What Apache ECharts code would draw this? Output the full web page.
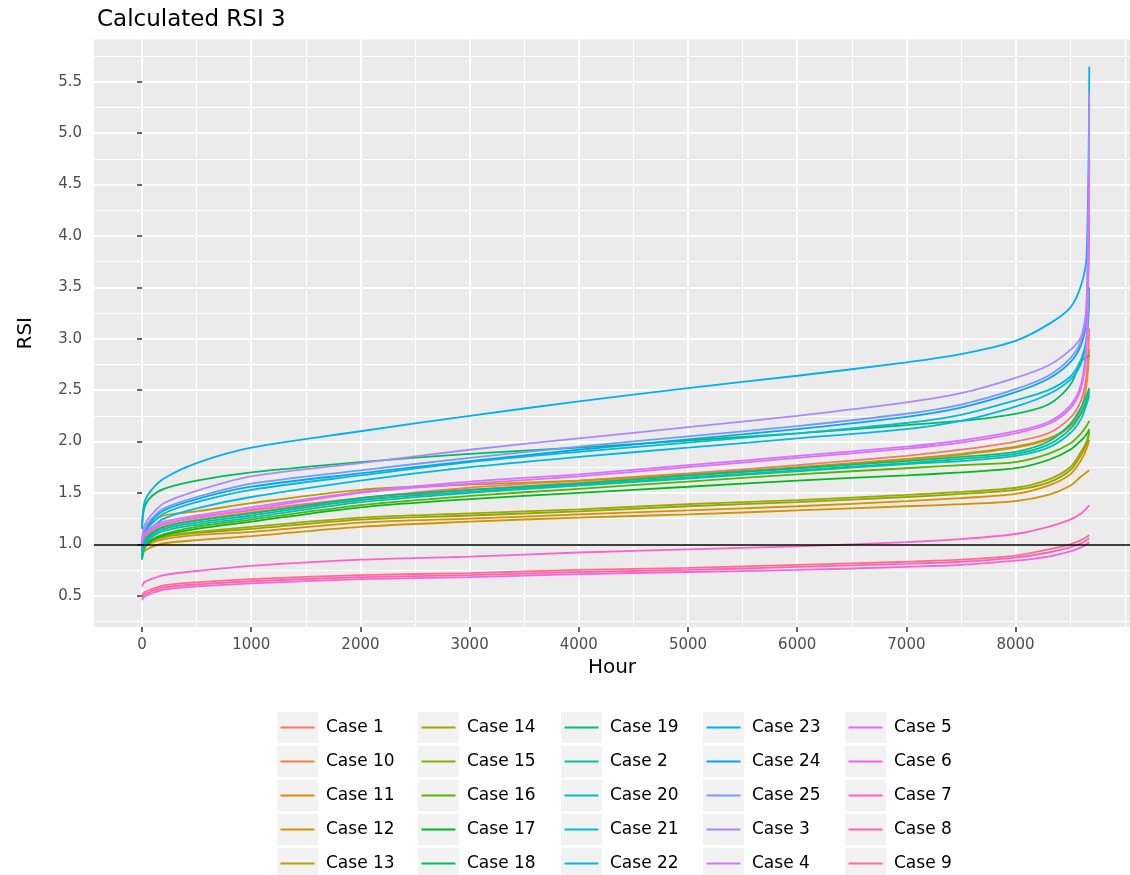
<!DOCTYPE html>
<html>
<head>
<meta charset="utf-8">
<script src="https://cdn.jsdelivr.net/npm/echarts@6/dist/echarts.min.js"></script>
<style>
  html, body { margin: 0; padding: 0; background: #fff; }
  #chart { width: 1130px; height: 875px; }
</style>
</head>
<body>
<div id="chart"></div>
<script>
// ---------- data ----------
const hours = [0, 20, 80, 200, 500, 1000, 2000, 3000, 4000, 5000, 6000, 7000, 7500, 8000, 8300, 8500, 8600, 8650, 8675];

const case1  = [0.95,1.05,1.12,1.19,1.26,1.33,1.45,1.55,1.62,1.69,1.77,1.86,1.92,2.00,2.08,2.23,2.40,2.65,3.10];
const case10 = [0.93,1.03,1.10,1.17,1.24,1.31,1.43,1.53,1.60,1.67,1.74,1.82,1.87,1.94,2.02,2.15,2.32,2.55,2.90];
const case11 = [0.92,0.97,1.01,1.05,1.09,1.12,1.21,1.25,1.29,1.33,1.37,1.42,1.45,1.49,1.57,1.68,1.82,1.93,2.02];
const case12 = [0.88,0.93,0.97,1.01,1.04,1.08,1.17,1.22,1.26,1.29,1.33,1.37,1.39,1.42,1.48,1.57,1.66,1.70,1.72];
const case13 = [0.92,1.10,1.20,1.28,1.32,1.40,1.53,1.58,1.62,1.68,1.75,1.83,1.88,1.95,2.03,2.15,2.28,2.40,2.50];
const case14 = [0.95,1.00,1.04,1.08,1.12,1.17,1.26,1.30,1.34,1.39,1.43,1.48,1.51,1.55,1.63,1.75,1.90,2.00,2.10];
const case15 = [0.94,0.99,1.03,1.07,1.11,1.15,1.24,1.28,1.32,1.37,1.41,1.46,1.49,1.53,1.60,1.72,1.87,1.98,2.08];
const case16 = [0.86,0.97,1.04,1.10,1.17,1.24,1.38,1.47,1.54,1.61,1.68,1.74,1.77,1.80,1.88,1.98,2.08,2.15,2.20];
const case17 = [0.85,0.96,1.03,1.09,1.15,1.22,1.36,1.44,1.50,1.56,1.62,1.67,1.70,1.74,1.82,1.92,2.01,2.07,2.12];
const case18 = [1.15,1.35,1.46,1.54,1.62,1.70,1.80,1.88,1.94,2.01,2.08,2.16,2.20,2.27,2.36,2.55,2.78,2.82,2.84];
const case19 = [0.88,1.02,1.10,1.17,1.23,1.30,1.45,1.53,1.59,1.67,1.74,1.81,1.85,1.90,2.00,2.17,2.33,2.45,2.52];
const case2  = [0.87,1.00,1.08,1.15,1.21,1.28,1.43,1.51,1.58,1.65,1.72,1.79,1.83,1.88,1.97,2.12,2.27,2.40,2.48];
const case20 = [0.86,0.98,1.06,1.13,1.19,1.26,1.41,1.50,1.57,1.64,1.71,1.78,1.81,1.86,1.94,2.08,2.22,2.36,2.45];
const case21 = [0.98,1.10,1.19,1.30,1.41,1.53,1.67,1.80,1.90,1.99,2.08,2.18,2.26,2.40,2.50,2.63,2.80,3.00,3.40];
const case22 = [0.95,1.07,1.15,1.25,1.35,1.46,1.62,1.75,1.85,1.94,2.03,2.12,2.20,2.34,2.46,2.60,2.76,3.00,3.50];
const case23 = [1.17,1.40,1.52,1.64,1.79,1.94,2.10,2.25,2.39,2.52,2.64,2.77,2.85,2.98,3.14,3.30,3.52,3.80,5.65];
const case24 = [0.98,1.12,1.22,1.33,1.44,1.56,1.69,1.81,1.92,2.02,2.12,2.24,2.33,2.48,2.61,2.77,2.94,3.20,4.20];
const case25 = [1.00,1.14,1.24,1.35,1.46,1.59,1.72,1.84,1.95,2.05,2.15,2.27,2.36,2.51,2.64,2.81,2.98,3.30,4.75];
const case3  = [1.05,1.18,1.28,1.40,1.52,1.66,1.79,1.92,2.03,2.14,2.25,2.38,2.47,2.62,2.74,2.89,3.02,3.35,5.40];
const case4  = [1.02,1.10,1.16,1.22,1.28,1.36,1.51,1.61,1.68,1.77,1.86,1.95,2.01,2.10,2.19,2.35,2.56,3.00,4.70];
const case5  = [1.00,1.08,1.14,1.20,1.26,1.34,1.50,1.59,1.66,1.75,1.84,1.93,1.99,2.08,2.17,2.32,2.52,2.90,4.50];
const case6  = [0.46,0.49,0.52,0.56,0.59,0.62,0.66,0.68,0.71,0.73,0.75,0.78,0.80,0.84,0.88,0.93,0.97,1.00,1.02];
const case7  = [0.59,0.63,0.66,0.70,0.74,0.79,0.85,0.88,0.92,0.95,0.98,1.02,1.05,1.10,1.17,1.24,1.30,1.35,1.38];
const case8  = [0.48,0.51,0.54,0.58,0.61,0.64,0.68,0.70,0.73,0.75,0.78,0.81,0.83,0.87,0.92,0.97,1.01,1.04,1.06];
const case9  = [0.50,0.53,0.56,0.60,0.63,0.66,0.70,0.72,0.75,0.77,0.80,0.83,0.85,0.89,0.95,1.00,1.04,1.07,1.09];

const seriesNames = ['Case 1','Case 10','Case 11','Case 12','Case 13','Case 14','Case 15','Case 16','Case 17','Case 18',
  'Case 19','Case 2','Case 20','Case 21','Case 22','Case 23','Case 24','Case 25','Case 3','Case 4','Case 5','Case 6','Case 7','Case 8','Case 9'];
const seriesValues = [case1, case10, case11, case12, case13, case14, case15, case16, case17, case18,
  case19, case2, case20, case21, case22, case23, case24, case25, case3, case4, case5, case6, case7, case8, case9];

const xTicks = [0, 1000, 2000, 3000, 4000, 5000, 6000, 7000, 8000];
const xMinorTicks = [500, 1500, 2500, 3500, 4500, 5500, 6500, 7500, 8500, 9000];
const yTicks = [0.5, 1.0, 1.5, 2.0, 2.5, 3.0, 3.5, 4.0, 4.5, 5.0, 5.5];
const yMinorTicks = [0.25, 0.75, 1.25, 1.75, 2.25, 2.75, 3.25, 3.75, 4.25, 4.75, 5.25, 5.75];
const refLine = 1.0;

// ---------- ggplot-like hue palette (HCL, l=65, c=100) ----------
function hcl(h, c, l) {
  const rad = h * Math.PI / 180;
  const U = c * Math.cos(rad), V = c * Math.sin(rad);
  const Xn = 95.047, Yn = 100.0, Zn = 108.883;
  const den = Xn + 15 * Yn + 3 * Zn;
  const un = 4 * Xn / den, vn = 9 * Yn / den;
  const Y = l > 8 ? Yn * Math.pow((l + 16) / 116, 3) : Yn * l / 903.3;
  const up = U / (13 * l) + un, vp = V / (13 * l) + vn;
  const X = 9.0 * Y * up / (4 * vp);
  const Z = -X / 3 - 5 * Y + 3 * Y / vp;
  const x = X / 100, y = Y / 100, z = Z / 100;
  let r = 3.240479 * x - 1.537150 * y - 0.498535 * z;
  let g = -0.969256 * x + 1.875992 * y + 0.041556 * z;
  let b = 0.055648 * x - 0.204043 * y + 1.057311 * z;
  const gam = v => v <= 0.0031308 ? 12.92 * v : 1.055 * Math.pow(v, 1 / 2.4) - 0.055;
  const to = v => { v = Math.max(0, Math.min(1, gam(v))); const s = Math.round(v * 255).toString(16); return s.length < 2 ? '0' + s : s; };
  return '#' + to(r) + to(g) + to(b);
}
const palette = seriesNames.map((_, i) => hcl(15 + 360 / seriesNames.length * i, 100, 65));

// ---------- chart ----------
const FONT = 'DejaVu Sans';
const chart = echarts.init(document.getElementById('chart'), null, { renderer: 'canvas' });

const series = seriesNames.map((name, i) => ({
  name: name,
  type: 'line',
  xAxisIndex: 0,
  yAxisIndex: 0,
  data: hours.map((h, j) => [h, seriesValues[i][j]]),
  showSymbol: false,
  symbol: 'none',
  smooth: 0.3,
  lineStyle: { width: 1.8, color: palette[i] },
  itemStyle: { color: palette[i] },
  emphasis: { disabled: true },
  silent: true,
  z: 2
}));
series.push({
  name: 'ref',
  type: 'line',
  data: [],
  xAxisIndex: 0,
  yAxisIndex: 0,
  silent: true,
  z: 3,
  markLine: {
    silent: true,
    symbol: ['none', 'none'],
    label: { show: false },
    lineStyle: { color: '#000000', width: 1.6, type: 'solid' },
    emphasis: { disabled: true },
    data: [{ yAxis: refLine }]
  }
});

// legend: 5 columns of 5 entries, column-major like ggplot; two layers (grey key boxes, then coloured lines + text)
const legendColumnLeft = [277, 418, 561, 703, 845];
const legends = [];
legendColumnLeft.forEach((left, c) => {
  const names = seriesNames.slice(c * 5, c * 5 + 5);
  const base = {
    orient: 'vertical', left: left, top: 712, height: 180, padding: 0,
    itemWidth: 41, itemHeight: 31, itemGap: 3,
    selectedMode: false, data: names
  };
  legends.push(Object.assign({}, base, {
    id: 'keys' + c, icon: 'rect', z: 4,
    itemStyle: { color: '#F2F2F2', borderWidth: 0 },
    textStyle: { fontFamily: FONT, fontSize: 17, color: 'rgba(0,0,0,0)', padding: [0, 0, 0, 3] }
  }));
  legends.push(Object.assign({}, base, {
    id: 'lines' + c, z: 5,
    icon: 'path://M0,0 L0,0 M3.5,14.5 L37.5,14.5 L37.5,16.5 L3.5,16.5 Z M41,31 L41,31',
    itemStyle: { borderWidth: 0 },
    textStyle: { fontFamily: FONT, fontSize: 17, color: '#000000', padding: [0, 0, 0, 3] }
  }));
});

const option = {
  animation: false,
  color: palette,
  title: {
    text: 'Calculated RSI 3',
    left: 92,
    top: 4,
    textStyle: { fontFamily: FONT, fontSize: 23, fontWeight: 'normal', color: '#000000' }
  },
  grid: {
    left: 94, right: 0, top: 39.5, bottom: 248,
    show: true, backgroundColor: '#EBEBEB', borderWidth: 0,
    containLabel: false, outerBoundsMode: 'none'
  },
  xAxis: [
    {
      type: 'value', min: -440, max: 9048,
      name: 'Hour', nameLocation: 'middle', nameGap: 31,
      nameTextStyle: { fontFamily: FONT, fontSize: 20, color: '#000000' },
      axisLine: { show: false },
      axisTick: { show: true, length: 5, customValues: xTicks, lineStyle: { color: '#333333', width: 1.5 } },
      axisLabel: { show: true, customValues: xTicks, margin: 11, fontFamily: FONT, fontSize: 15, color: '#4D4D4D',
        formatter: v => String(v) },
      splitLine: { show: true, lineStyle: { color: '#FFFFFF', width: 2 } }
    },
    {
      type: 'value', min: -440, max: 9048, show: true,
      axisLine: { show: false },
      axisTick: { show: false, customValues: xMinorTicks },
      axisLabel: { show: false, customValues: xMinorTicks },
      splitLine: { show: true, lineStyle: { color: '#FFFFFF', width: 1 } }
    }
  ],
  yAxis: [
    {
      type: 'value', min: 0.195, max: 5.912,
      name: 'RSI', nameLocation: 'middle', nameGap: 58, nameRotate: 90,
      nameTextStyle: { fontFamily: FONT, fontSize: 20, color: '#000000' },
      axisLine: { show: false },
      axisTick: { show: true, length: 5, customValues: yTicks, lineStyle: { color: '#333333', width: 1.5 } },
      axisLabel: { show: true, customValues: yTicks, margin: 12, fontFamily: FONT, fontSize: 15, color: '#4D4D4D',
        formatter: v => v.toFixed(1) },
      splitLine: { show: true, lineStyle: { color: '#FFFFFF', width: 2 } }
    },
    {
      type: 'value', min: 0.195, max: 5.912, show: true,
      axisLine: { show: false },
      axisTick: { show: false, customValues: yMinorTicks },
      axisLabel: { show: false, customValues: yMinorTicks },
      splitLine: { show: true, lineStyle: { color: '#FFFFFF', width: 1 } }
    }
  ],
  legend: legends,
  series: series
};
chart.setOption(option);
</script>
</body>
</html>
